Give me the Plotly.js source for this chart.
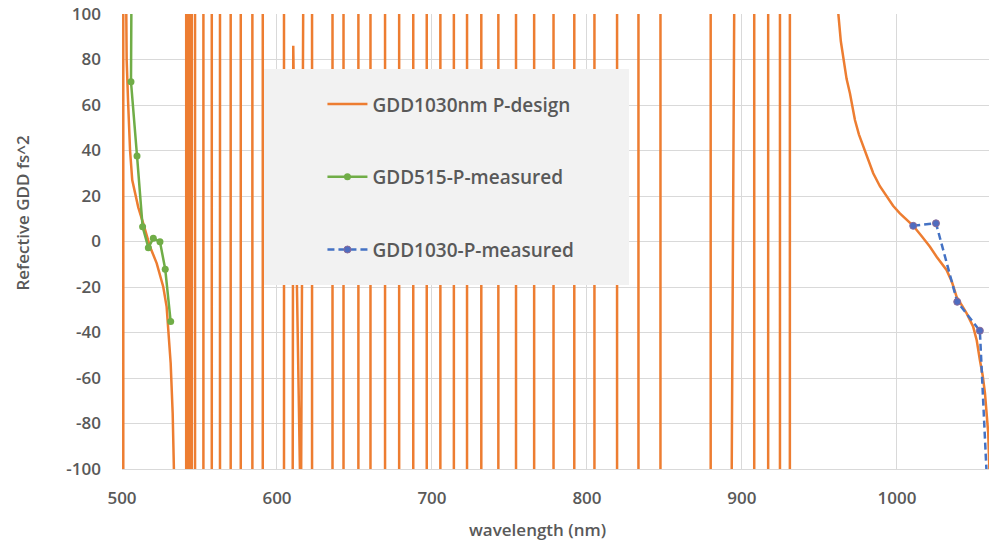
<!DOCTYPE html>
<html><head><meta charset="utf-8">
<script src="https://cdn.plot.ly/plotly-3.0.1.min.js"></script>
<style>html,body{margin:0;padding:0;background:#fff;}#chart{width:989px;height:543px;}</style>
</head><body><div id="chart"></div>
<script>
// GDD1030nm P-design (values beyond ±100 are off-scale resonance excursions)
const designWavelength = [
  500.8, 500.85, 502.3, 502.6, 503.0, 503.9, 505.2, 506.6, 508.4, 510.5, 513.7, 518.1, 522.4, 526.6, 528.8, 529.9, 531.4, 532.7, 533.5, 533.7,
  541.4, 541.45, 542.3, 542.35, 543.2, 543.25, 544.1, 544.15, 545.0, 545.05,
  547.1, 547.15, 552.5, 552.55, 557.9, 557.95, 563.2, 563.25, 570.1, 570.15, 576.6, 576.65, 584.1, 584.15, 590.8, 590.85, 604.5, 604.55,
  610.0, 610.1, 610.5, 611.2, 612.7, 614.0, 614.8, 614.9,
  615.5, 615.6, 616.9, 617.0,
  622.6, 622.65, 635.8, 635.85, 642.9, 642.95, 652.5, 652.55, 660.3, 660.35, 669.7, 669.75, 678.8, 678.85, 687.9, 687.95,
  696.6, 696.65, 705.4, 705.45, 714.1, 714.15, 722.6, 722.65, 731.8, 731.85, 742.8, 742.85, 754.2, 754.25, 765.9, 765.95,
  778.4, 778.45, 791.8, 791.85, 804.8, 804.85, 819.4, 819.45, 833.2, 833.25, 847.4, 847.45, 879.8, 879.85,
  893.3, 893.4, 895.0, 895.1,
  907.9, 907.95, 916.9, 916.95, 924.5, 924.55, 930.9, 930.95,
  961.0, 962.2, 963.8, 965.4, 967.5, 969.7, 972.9, 975.5, 978.3, 981.5, 984.7, 989.0, 993.3, 997.5, 1001.9, 1006.0, 1010.5, 1016.0, 1021.3,
  1025.6, 1032.0, 1035.5, 1038.5, 1042.0, 1045.0, 1049.2, 1051.5, 1053.5, 1055.3, 1056.8, 1058.9, 1061.0
];
const designGdd = [
  -3000, 3000, 140, 100, 80, 62, 40, 27, 21, 15, 8, -2.3, -9.6, -19.9, -28.7, -38.9, -53.5, -75.5, -100.4, -3000,
  -3000, 3000, 3000, -3000, -3000, 3000, 3000, -3000, -3000, 3000,
  3000, -3000, -3000, 3000, 3000, -3000, -3000, 3000, 3000, -3000, -3000, 3000, 3000, -3000, -3000, 3000, 3000, -3000,
  -3000, -100.5, 86, 50, -19, -60, -100.5, -3000,
  -3000, -100.5, 100.5, 3000,
  3000, -3000, -3000, 3000, 3000, -3000, -3000, 3000, 3000, -3000, -3000, 3000, 3000, -3000, -3000, 3000,
  3000, -3000, -3000, 3000, 3000, -3000, -3000, 3000, 3000, -3000, -3000, 3000, 3000, -3000, -3000, 3000,
  3000, -3000, -3000, 3000, 3000, -3000, -3000, 3000, 3000, -3000, -3000, 3000, 3000, -3000,
  -3000, -100.5, 100.5, 3000,
  3000, -3000, -3000, 3000, 3000, -3000, -3000, 3000,
  200, 100, 88, 79.8, 71.5, 65.1, 53.4, 47.0, 41.7, 35.5, 30.0, 24.3, 19.7, 15.7, 12.4, 9.6, 6.9, 2.3, -2.3,
  -6.7, -12.5, -17.8, -24.3, -28.2, -31.6, -37.5, -43.5, -52.1, -58.8, -66.7, -84.3, -130
];

// GDD515-P-measured
const measured515Wavelength = [506.5, 505.8, 509.7, 513.3, 517.0, 520.2, 524.5, 527.9, 531.4];
const measured515Gdd        = [160, 70.2, 37.6, 6.5, -2.7, 1.4, -0.1, -12.2, -35.2];

// GDD1030-P-measured
const measured1030Wavelength = [1010.5, 1025.2, 1038.9, 1053.5, 1060.5];
const measured1030Gdd        = [6.9, 8.0, -26.5, -39.2, -140];

const seriesNames = ['GDD1030nm P-design', 'GDD515-P-measured', 'GDD1030-P-measured'];
const xTickValues = [500, 600, 700, 800, 900, 1000];
const yTickValues = [-100, -80, -60, -40, -20, 0, 20, 40, 60, 80, 100];

const textColor = '#595959';
const gridColor = '#d9d9d9';

const traces = [
  {
    x: designWavelength, y: designGdd, name: seriesNames[0], legendgroup: 'a',
    type: 'scatter', mode: 'lines',
    line: {color: '#ED7D31', width: 2.5}
  },
  {
    x: measured515Wavelength, y: measured515Gdd, name: seriesNames[1], legendgroup: 'b',
    type: 'scatter', mode: 'lines+markers',
    line: {color: '#70AD47', width: 2.5},
    marker: {color: '#70AD47', size: 7, symbol: 'circle'}
  },
  {
    x: measured1030Wavelength, y: measured1030Gdd, name: seriesNames[2], legendgroup: 'c',
    type: 'scatter', mode: 'lines+markers',
    line: {color: '#4472C4', width: 2.5, dash: '7px,4px'},
    marker: {color: '#4f6cc0', size: 7, symbol: 'circle', line: {color: '#8a6a98', width: 1}}
  }
];

const layout = {
  width: 989, height: 543,
  margin: {l: 122, r: 0, t: 14, b: 74, pad: 0},
  paper_bgcolor: '#ffffff', plot_bgcolor: '#ffffff',
  font: {family: 'Open Sans, sans-serif', color: textColor, size: 17},
  showlegend: true,
  hovermode: false,
  xaxis: {
    range: [500, 1059.4],
    tickvals: xTickValues,
    ticktext: xTickValues.map(String),
    showgrid: true, gridcolor: gridColor, gridwidth: 1,
    zeroline: false,
    showline: true, linecolor: gridColor, linewidth: 1,
    ticks: '',
    ticklabelstandoff: 14,
    tickfont: {family: 'Open Sans, sans-serif', size: 17, color: textColor, weight: 600}
  },
  yaxis: {
    range: [-100, 100],
    tickvals: yTickValues,
    ticktext: yTickValues.map(String),
    showgrid: true, gridcolor: gridColor, gridwidth: 1,
    zeroline: false,
    showline: false,
    ticks: '',
    ticklabelstandoff: 20,
    tickfont: {family: 'Open Sans, sans-serif', size: 17, color: textColor, weight: 600}
  },
  legend: {
    x: 0.2312, xanchor: 'left',
    y: 0.8434, yanchor: 'top',
    bgcolor: 'rgba(0,0,0,0)', borderwidth: 0,
    traceorder: 'grouped', tracegroupgap: 45,
    itemwidth: 40,
    font: {family: 'Open Sans, sans-serif', size: 19, color: textColor, weight: 600}
  },
  shapes: [{
    type: 'rect', xref: 'paper', yref: 'paper', layer: 'above',
    x0: 0.1638, x1: 0.5848, y0: 0.4044, y1: 0.8791,
    fillcolor: '#f2f2f2', line: {width: 0}
  }],
  annotations: [
    {text: 'wavelength (nm)', xref: 'paper', yref: 'paper', x: 0.4787, y: -0.134,
     xanchor: 'center', yanchor: 'middle', showarrow: false,
     font: {family: 'Open Sans, sans-serif', size: 17, color: textColor, weight: 600}},
    {text: 'Refective GDD fs^2', xref: 'paper', yref: 'paper', x: -0.1153, y: 0.5615,
     xanchor: 'center', yanchor: 'middle', textangle: -90, showarrow: false,
     font: {family: 'Open Sans, sans-serif', size: 17, color: textColor, weight: 600}}
  ]
};

Plotly.newPlot('chart', traces, layout, {displayModeBar: false, staticPlot: true});
</script>
</body></html>
